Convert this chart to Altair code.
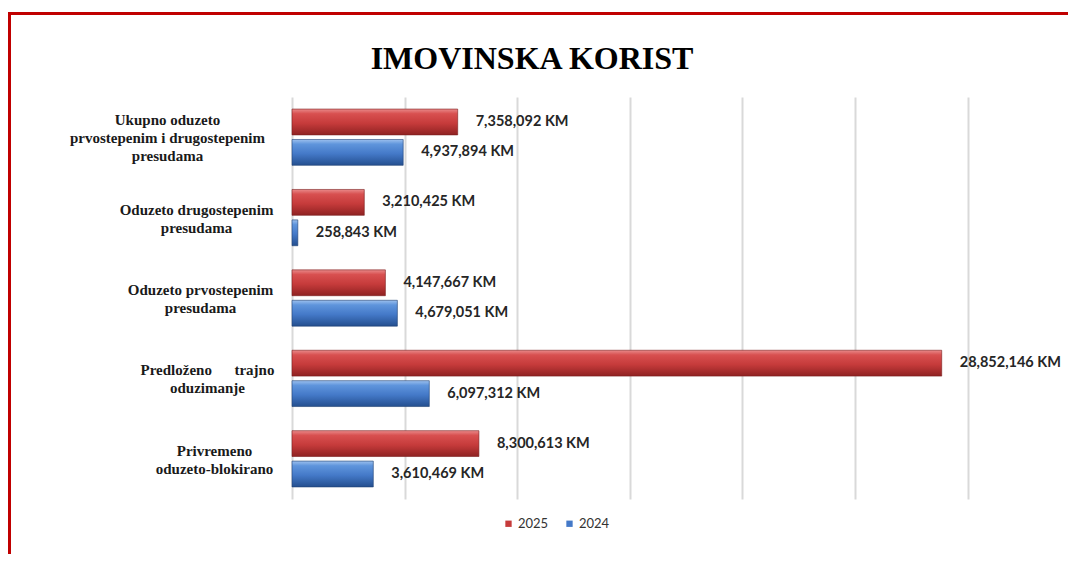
import altair as alt
import pandas as pd

categories = [
    "Ukupno oduzeto\nprvostepenim i drugostepenim\npresudama",
    "Oduzeto drugostepenim\npresudama",
    "Oduzeto prvostepenim\npresudama",
    "Predloženo\u00a0\u00a0\u00a0\u00a0\u00a0 trajno\noduzimanje",
    "Privremeno\noduzeto-blokirano",
]
years = ["2025", "2024"]
values_2025 = [7358092, 3210425, 4147667, 28852146, 8300613]
values_2024 = [4937894, 258843, 4679051, 6097312, 3610469]
grid_values = [0, 5000000, 10000000, 15000000, 20000000, 25000000, 30000000]
title_text = "IMOVINSKA KORIST"

rows = []
for c, v in zip(categories, values_2025):
    rows.append({"cat": c, "year": "2025", "value": v})
for c, v in zip(categories, values_2024):
    rows.append({"cat": c, "year": "2024", "value": v})
df = pd.DataFrame(rows)
df["label"] = df["value"].map(lambda v: f"{v:,} KM")

red_grad = alt.Gradient(
    gradient="linear", x1=0, x2=0, y1=0, y2=1,
    stops=[
        alt.GradientStop(color="#e98a8a", offset=0),
        alt.GradientStop(color="#d85050", offset=0.18),
        alt.GradientStop(color="#c63b3b", offset=0.55),
        alt.GradientStop(color="#8f2222", offset=1),
    ],
)
blue_grad = alt.Gradient(
    gradient="linear", x1=0, x2=0, y1=0, y2=1,
    stops=[
        alt.GradientStop(color="#9cc0ee", offset=0),
        alt.GradientStop(color="#5f95dc", offset=0.18),
        alt.GradientStop(color="#4479c8", offset=0.55),
        alt.GradientStop(color="#244f8f", offset=1),
    ],
)

pad_cond = [
    {"test": "indexof(datum.value, 'Ukupno') >= 0", "value": 125},
    {"test": "indexof(datum.value, 'Oduzeto drugostepenim') >= 0", "value": 96},
    {"test": "indexof(datum.value, 'Oduzeto prvostepenim') >= 0", "value": 92},
    {"test": "indexof(datum.value, 'Predlo') >= 0", "value": 85},
]
offset_cond = [
    {"test": "length(split(datum.value, '\\n')) > 2", "value": -17},
]

x_enc = alt.X(
    "value:Q",
    scale=alt.Scale(domain=[0, 34460000], nice=False),
    axis=alt.Axis(
        values=grid_values, labels=False, ticks=False, domain=False, title=None,
        grid=True, gridColor="#d9d9d9", gridWidth=2,
    ),
)
y_enc = alt.Y(
    "cat:N",
    sort=categories,
    scale=alt.Scale(paddingInner=0.3, paddingOuter=0.15),
    axis=alt.Axis(
        title=None, domain=False, ticks=False, grid=False,
        labelExpr="split(datum.label, '\\n')",
        labelAlign="center", labelBaseline="middle",
        labelFont="Liberation Serif", labelFontSize=15, labelFontWeight="bold",
        labelColor="#1a1a1a", labelLineHeight=18, labelLimit=400,
        labelPadding={"condition": pad_cond, "value": 78},
        labelOffset={"condition": offset_cond, "value": -8},
    ),
)
yoff_enc = alt.YOffset("year:N", scale=alt.Scale(domain=years, paddingInner=0.15))

base = alt.Chart(df)

bars_2025 = base.transform_filter("datum.year == '2025'").mark_bar(fill=red_grad, stroke="#7a1c1c", strokeWidth=0.6).encode(
    x=x_enc, y=y_enc, yOffset=yoff_enc)
bars_2024 = base.transform_filter("datum.year == '2024'").mark_bar(fill=blue_grad, stroke="#1f3f72", strokeWidth=0.6).encode(
    x=x_enc, y=y_enc, yOffset=yoff_enc)

labels = base.mark_text(align="left", baseline="middle", dx=18, font="Lato", fontSize=14.5,
                        fontWeight="bold", color="#262626").encode(
    x="value:Q", y=alt.Y("cat:N", sort=categories), yOffset="year:N", text="label:N")

legend_layer = base.mark_square(opacity=0).encode(
    x="value:Q", y=alt.Y("cat:N", sort=categories), yOffset="year:N",
    color=alt.Color(
        "year:N",
        scale=alt.Scale(domain=years, range=["#c63b3b", "#4479c8"]),
        legend=alt.Legend(
            title=None, orient="none", legendX=210, legendY=420, direction="horizontal",
            symbolType="square", symbolSize=40, symbolOpacity=1, symbolStrokeWidth=0,
            labelFont="Lato", labelFontSize=13, labelColor="#333333", columnPadding=14,
            labelOffset=3,
        ),
    ),
)

one = pd.DataFrame({"t": [title_text]})

border = alt.Chart(one).mark_rect(
    fill=None, stroke="#c00000", strokeWidth=3, clip=False).encode(
    x=alt.value(-282.5), x2=alt.value(2000), y=alt.value(-83.5), y2=alt.value(2000))

title = alt.Chart(one).mark_text(
    font="Liberation Serif", fontSize=32, fontWeight="bold", color="#000000",
    align="center", baseline="alphabetic").encode(
    x=alt.value(240), y=alt.value(-28), text="t:N")

chart = alt.layer(border, title, bars_2025, bars_2024, labels, legend_layer).properties(
    width=776, height=402,
    autosize=alt.AutoSizeParams(type="none"),
    padding={"left": 284, "top": 89, "right": 0, "bottom": 55},
    background="white",
).configure_view(stroke=None)

chart.save("out.html", embed_options={"renderer": "svg", "actions": False})
